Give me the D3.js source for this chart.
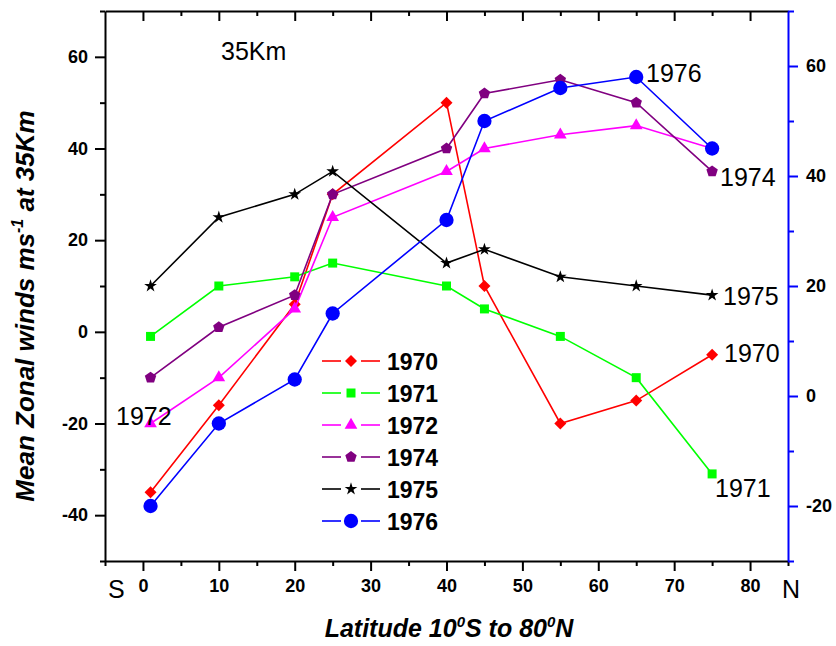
<!DOCTYPE html>
<html>
<head>
<meta charset="utf-8">
<script src="https://cdn.jsdelivr.net/npm/d3@7"></script>
<style>
  body { margin: 0; background: #fff; }
  svg text { font-family: Arial, "Liberation Sans", sans-serif; }
</style>
</head>
<body>
<div id="chart"></div>
<script>
// latitude points
var lats = [1, 10, 20, 25, 40, 45, 55, 65, 75];

// zonal winds (left axis)
var w1970 = [-35, -16, 6, 30, 50, 10, -20, -15, -5];
var w1971 = [-1, 10, 12, 15, 10, 5, -1, -10, -31];
var w1972 = [-20, -10, 5, 25, 35, 40, 43, 45, 40];
var w1974 = [-10, 1, 8, 30, 40, 52, 55, 50, 35];
var w1975 = [10, 25, 30, 35, 15, 18, 12, 10, 8];
// 1976 is read on the blue right axis
var w1976 = [-20, -5, 3, 15, 32, 50, 56, 58, 45];

var years = ["1970", "1971", "1972", "1974", "1975", "1976"];
var colors = ["#ff0000", "#00ff00", "#ff00ff", "#800080", "#000000", "#0000ff"];
var shapes = ["diamond", "square", "triangle", "pentagon", "star", "circle"];

var xTicks = [0, 10, 20, 30, 40, 50, 60, 70, 80];
var yLeftTicks = [-40, -20, 0, 20, 40, 60];
var yRightTicks = [-20, 0, 20, 40, 60];

var width = 836, height = 646;
var margin = {top: 11, right: 48, bottom: 85, left: 105};

var svg = d3.select("#chart")
  .append("svg")
  .attr("width", width)
  .attr("height", height);

svg.append("rect").attr("width", width).attr("height", height).attr("fill", "#fff");

var x = d3.scaleLinear().domain([-5, 85]).range([margin.left, width - margin.right]);
var yL = d3.scaleLinear().domain([-50, 70]).range([height - margin.bottom, margin.top]);
var yR = d3.scaleLinear().domain([-30, 70]).range([height - margin.bottom, margin.top]);

var x0 = x.range()[0], x1 = x.range()[1];
var yb = yL.range()[0], yt = yL.range()[1];

// plain hyphen for negatives, like the original
var fmt = function(d) { return String(d); };

// minor tick lists
function minors(lo, hi, step) {
  var out = [];
  for (var v = lo; v <= hi; v += step) out.push(v);
  return out;
}

// bottom axis
svg.append("g")
  .attr("transform", "translate(0," + yb + ")")
  .call(d3.axisBottom(x).tickValues(minors(-5, 85, 10)).tickSize(5).tickFormat(""))
  .call(function(g) { g.select(".domain").remove(); })
  .selectAll("line").attr("stroke-width", 2);

svg.append("g")
  .attr("transform", "translate(0," + yb + ")")
  .call(d3.axisBottom(x).tickValues(xTicks).tickSize(10).tickPadding(8).tickSizeOuter(0).tickFormat(fmt))
  .call(function(g) {
    g.select(".domain").attr("stroke-width", 2);
    g.selectAll("line").attr("stroke-width", 2);
    g.selectAll("text").attr("font-size", 18).attr("font-weight", "bold").attr("fill", "#000");
  });

// top axis, ticks inward
svg.append("g")
  .attr("transform", "translate(0," + yt + ")")
  .call(d3.axisTop(x).tickValues(minors(5, 75, 10)).tickSize(-5).tickFormat(""))
  .call(function(g) { g.select(".domain").remove(); g.selectAll("line").attr("stroke-width", 2); });

svg.append("g")
  .attr("transform", "translate(0," + yt + ")")
  .call(d3.axisTop(x).tickValues(xTicks).tickSize(-10).tickFormat("").tickSizeOuter(0))
  .call(function(g) {
    g.select(".domain").attr("stroke-width", 2);
    g.selectAll("line").attr("stroke-width", 2);
  });

// left axis
svg.append("g")
  .attr("transform", "translate(" + x0 + ",0)")
  .call(d3.axisLeft(yL).tickValues(minors(-50, 70, 20)).tickSize(5).tickFormat(""))
  .call(function(g) { g.select(".domain").remove(); g.selectAll("line").attr("stroke-width", 2); });

svg.append("g")
  .attr("transform", "translate(" + x0 + ",0)")
  .call(d3.axisLeft(yL).tickValues(yLeftTicks).tickSize(10).tickPadding(7).tickSizeOuter(0).tickFormat(fmt))
  .call(function(g) {
    g.select(".domain").attr("stroke-width", 2);
    g.selectAll("line").attr("stroke-width", 2);
    g.selectAll("text").attr("font-size", 18).attr("font-weight", "bold").attr("fill", "#000");
  });

// right axis, blue
svg.append("g")
  .attr("transform", "translate(" + x1 + ",0)")
  .call(d3.axisRight(yR).tickValues(minors(-30, 70, 20)).tickSize(6).tickFormat(""))
  .call(function(g) { g.select(".domain").remove(); g.selectAll("line").attr("stroke", "#0000ff").attr("stroke-width", 2); });

svg.append("g")
  .attr("transform", "translate(" + x1 + ",0)")
  .call(d3.axisRight(yR).tickValues(yRightTicks).tickSize(10).tickPadding(8).tickSizeOuter(0).tickFormat(fmt))
  .call(function(g) {
    g.select(".domain").attr("stroke", "#0000ff").attr("stroke-width", 2);
    g.selectAll("line").attr("stroke", "#0000ff").attr("stroke-width", 2);
    g.selectAll("text").attr("font-size", 18).attr("font-weight", "bold").attr("fill", "#000");
  });

// marker paths
function pentagon(r) {
  var p = d3.path();
  for (var i = 0; i < 5; i++) {
    var a = -Math.PI / 2 + i * 2 * Math.PI / 5;
    if (i == 0) p.moveTo(r * Math.cos(a), r * Math.sin(a));
    else p.lineTo(r * Math.cos(a), r * Math.sin(a));
  }
  p.closePath();
  return p.toString();
}
function markerPath(shape) {
  if (shape == "diamond") return "M0,-6L6,0L0,6L-6,0Z";
  if (shape == "square") return "M-4.5,-4.5h9v9h-9Z";
  if (shape == "triangle") return d3.symbol(d3.symbolTriangle, 70)();
  if (shape == "pentagon") return pentagon(6);
  if (shape == "star") return d3.symbol(d3.symbolStar, 50)();
  return d3.symbol(d3.symbolCircle, 160)();
}

var allSeries = [w1970, w1971, w1972, w1974, w1975, w1976];

allSeries.forEach(function(vals, i) {
  var yS = (i == 5) ? yR : yL;
  var pts = lats.map(function(d, j) { return [d, vals[j]]; });
  var line = d3.line()
    .x(function(d) { return x(d[0]); })
    .y(function(d) { return yS(d[1]); });
  svg.append("path")
    .datum(pts)
    .attr("d", line)
    .attr("fill", "none")
    .attr("stroke", colors[i])
    .attr("stroke-width", 1.6);
  svg.selectAll(".m" + i)
    .data(pts)
    .enter()
    .append("path")
    .attr("class", "m" + i)
    .attr("d", markerPath(shapes[i]))
    .attr("transform", function(d) { return "translate(" + x(d[0]) + "," + yS(d[1]) + ")"; })
    .attr("fill", colors[i]);
});

// legend
var legend = svg.append("g").attr("transform", "translate(322,361)");
years.forEach(function(yr, i) {
  var g = legend.append("g").attr("transform", "translate(0," + (i * 32) + ")");
  g.append("line").attr("x1", 0).attr("x2", 19).attr("stroke", colors[i]).attr("stroke-width", 1.6);
  g.append("line").attr("x1", 39).attr("x2", 58).attr("stroke", colors[i]).attr("stroke-width", 1.6);
  g.append("path").attr("d", markerPath(shapes[i])).attr("transform", "translate(29,0)").attr("fill", colors[i]);
  g.append("text").attr("x", 65).attr("y", 8.5)
    .attr("font-size", 23).attr("font-weight", "bold").text(yr);
});

// annotations
var notes = [
  {t: "35Km", x: 221, y: 60},
  {t: "1976", x: 646, y: 82},
  {t: "1974", x: 720, y: 186},
  {t: "1975", x: 723, y: 305},
  {t: "1970", x: 724, y: 362},
  {t: "1971", x: 715, y: 497},
  {t: "1972", x: 116, y: 425},
  {t: "S", x: 108, y: 598},
  {t: "N", x: 782, y: 598}
];
svg.selectAll(".note")
  .data(notes)
  .enter()
  .append("text")
  .attr("class", "note")
  .attr("x", function(d) { return d.x; })
  .attr("y", function(d) { return d.y; })
  .attr("font-size", 25)
  .text(function(d) { return d.t; });

// axis titles
var xt = svg.append("text")
  .attr("x", 449).attr("y", 637)
  .attr("text-anchor", "middle")
  .attr("font-size", 25).attr("font-weight", "bold").attr("font-style", "italic");
xt.append("tspan").text("Latitude 10");
xt.append("tspan").attr("dy", -10).attr("font-size", 15).text("0");
xt.append("tspan").attr("dy", 10).text("S to 80");
xt.append("tspan").attr("dy", -10).attr("font-size", 15).text("0");
xt.append("tspan").attr("dy", 10).text("N");

var yt2 = svg.append("text")
  .attr("transform", "translate(34,306) rotate(-90)")
  .attr("text-anchor", "middle")
  .attr("font-size", 26).attr("font-weight", "bold").attr("font-style", "italic");
yt2.append("tspan").text("Mean Zonal winds ms");
yt2.append("tspan").attr("dy", -11).attr("font-size", 16).text("-1");
yt2.append("tspan").attr("dy", 11).text("  at 35Km");
</script>
</body>
</html>
